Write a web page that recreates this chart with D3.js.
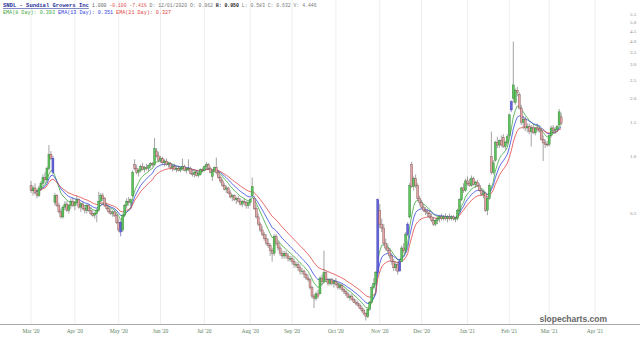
<!DOCTYPE html>
<html>
<head>
<meta charset="utf-8">
<script src="https://cdn.jsdelivr.net/npm/d3@7"></script>
<style>
  body { margin: 0; background: #fff; }
  svg { display: block; }
</style>
</head>
<body>
<div id="chart"></div>
<script>
// daily candles [open, high, low, close], one row per week, first day Mon 2 Mar 2020
var candles = [
  [.70,.74,.64,.66],[.66,.70,.62,.68],[.68,.72,.63,.64],[.64,.67,.60,.62],[.62,.70,.61,.68],
  [.68,.74,.66,.72],[.72,.80,.70,.77],[.77,.82,.72,.75],[.75,.88,.74,.86],[.86,1.14,.84,1.02],
  [1.02,1.06,.95,.97],[.97,1.00,.80,.82],[.57,.64,.55,.62],[.62,.63,.54,.55],[.55,.57,.50,.51],
  [.51,.53,.47,.48],[.48,.55,.47,.54],[.54,.58,.52,.56],[.56,.58,.51,.52],[.52,.56,.50,.55],
  [.55,.60,.53,.58],[.58,.61,.54,.55],[.55,.58,.52,.57],[.57,.62,.55,.59],[.59,.60,.53,.54],
  [.54,.57,.51,.56],[.56,.58,.52,.53],[.53,.55,.50,.52],[.52,.56,.50,.55],[.55,.56,.51,.52],
  [.52,.54,.49,.50],[.50,.52,.48,.49],[.49,.51,.47,.50],[.50,.53,.45,.52],[.52,.65,.51,.58],
  [.58,.64,.56,.62],[.62,.64,.58,.60],[.60,.61,.54,.55],[.55,.57,.52,.53],[.53,.55,.50,.51],
  [.51,.53,.49,.50],[.50,.52,.48,.51],[.51,.52,.48,.49],[.49,.50,.44,.45],[.45,.47,.40,.41],
  [.45,.46,.38,.40],[.41,.50,.40,.49],[.49,.56,.48,.55],[.55,.60,.53,.58],[.58,.61,.55,.57],
  [.57,.60,.55,.59],[.62,.84,.61,.82],[.90,.96,.84,.86],[.86,.90,.80,.82],[.82,.86,.78,.84],
  [.84,.90,.82,.88],[.88,.92,.84,.85],[.85,.89,.82,.87],[.87,.91,.84,.86],[.86,.90,.83,.89],
  [.89,.93,.86,.91],[.91,.93,.88,.90],[.90,1.24,.89,1.09],[1.06,1.10,.98,1.00],[1.00,1.05,.93,.95],
  [.95,1.00,.92,.97],[.97,.99,.90,.92],[.92,.96,.88,.94],[.94,.97,.89,.90],[.90,.93,.87,.91],
  [.91,.93,.85,.87],[.87,.90,.83,.88],[.88,.91,.84,.85],[.85,.88,.82,.86],[.86,.89,.83,.84],
  [.84,.88,.82,.86],[.86,.97,.84,.88],[.88,.90,.83,.84],[.84,.87,.81,.85],[.85,.96,.83,.86],
  [.86,.88,.80,.81],[.81,.84,.78,.80],[.80,.83,.77,.82],[.82,.84,.78,.79],[.79,.82,.77,.81],
  [.80,.86,.79,.85],[.85,.87,.82,.84],[.84,.89,.83,.88],[.88,.93,.86,.90],[.90,.92,.85,.86],
  [.86,.88,.81,.82],[.78,.84,.74,.83],[.83,.88,.82,.87],[.87,.98,.80,.82],[.82,.84,.76,.77],
  [.77,.79,.72,.74],[.74,.76,.69,.70],[.70,.72,.66,.67],[.67,.70,.64,.68],[.68,.69,.63,.64],
  [.64,.66,.60,.61],[.61,.63,.58,.62],[.62,.63,.58,.59],[.59,.61,.56,.60],[.60,.62,.57,.58],
  [.58,.60,.55,.56],[.56,.59,.54,.58],[.58,.60,.55,.57],[.57,.58,.53,.55],[.55,.58,.53,.57],
  [.57,.60,.55,.59],[.62,.77,.61,.69],[.60,.62,.52,.53],[.53,.55,.47,.48],[.48,.50,.43,.44],
  [.44,.45,.40,.41],[.41,.43,.38,.39],[.39,.40,.36,.37],[.37,.39,.34,.35],[.35,.37,.33,.34],
  [.34,.35,.30,.32],[.32,.33,.28,.31],[.31,.39,.30,.38],[.38,.39,.34,.35],[.35,.36,.32,.33],
  [.33,.34,.30,.31],[.31,.32,.29,.30],[.30,.32,.29,.31],[.31,.32,.29,.30],[.30,.31,.28,.29],
  [.29,.30,.28,.29],[.29,.30,.27,.28],[.28,.29,.26,.27],[.27,.28,.26,.27],[.27,.28,.25,.26],
  [.26,.27,.24,.25],[.25,.26,.24,.25],[.25,.255,.23,.24],[.24,.245,.225,.23],[.23,.24,.22,.225],
  [.225,.23,.20,.205],[.205,.21,.18,.185],[.185,.19,.16,.18],[.18,.195,.175,.19],[.19,.20,.18,.185],
  [.19,.235,.19,.23],[.23,.24,.21,.22],[.22,.32,.215,.245],[.245,.25,.22,.225],[.225,.23,.21,.215],
  [.215,.23,.21,.225],[.225,.23,.21,.215],[.215,.225,.205,.22],[.22,.23,.21,.212],[.212,.22,.20,.205],
  [.205,.215,.20,.21],[.21,.215,.195,.20],[.20,.205,.19,.195],[.195,.20,.185,.19],[.19,.195,.18,.182],
  [.182,.19,.175,.185],[.185,.19,.175,.178],[.178,.182,.17,.172],[.172,.178,.165,.17],[.17,.175,.163,.166],
  [.166,.17,.158,.16],[.16,.165,.152,.155],[.155,.16,.147,.15],[.15,.152,.138,.145],[.145,.16,.142,.158],
  [.158,.175,.155,.172],[.172,.21,.17,.205],[.205,.23,.20,.215],[.215,.25,.21,.245],[.245,.60,.24,.59],
  [.52,.56,.42,.44],[.44,.47,.40,.42],[.42,.44,.34,.35],[.35,.37,.32,.33],[.33,.35,.31,.32],
  [.32,.33,.29,.30],[.30,.31,.27,.28],[.28,.29,.25,.26],[.26,.28,.25,.27],[.27,.28,.24,.25],
  [.25,.29,.25,.28],[.28,.34,.28,.33],[.33,.35,.31,.32],[.32,.40,.31,.39],[.39,.45,.38,.44],
  [.48,.72,.47,.70],[.90,.93,.68,.69],[.69,.78,.66,.76],[.76,.80,.68,.70],[.70,.72,.58,.60],
  [.60,.62,.55,.57],[.57,.59,.53,.54],[.54,.56,.51,.52],[.52,.54,.49,.51],[.51,.53,.48,.50],
  [.50,.52,.47,.48],[.48,.50,.45,.46],[.46,.48,.43,.44],[.44,.47,.43,.46],[.46,.48,.44,.47],
  [.47,.49,.45,.48],[.48,.50,.46,.47],[.47,.49,.46,.48],[.48,.50,.46,.47],[.47,.49,.45,.48],
  [.48,.50,.46,.47],[.47,.49,.46,.48],[.48,.49,.46,.47],[.47,.48,.45,.47],[.47,.53,.46,.52],
  [.52,.60,.51,.59],[.59,.69,.58,.68],[.68,.72,.64,.66],[.66,.76,.65,.74],[.74,.78,.70,.72],
  [.72,.76,.69,.70],[.70,.79,.69,.76],[.76,.78,.70,.71],[.71,.74,.68,.73],[.73,.75,.69,.70],
  [.70,.72,.65,.66],[.66,.68,.62,.63],[.63,.66,.60,.64],[.64,.65,.51,.52],[.52,.61,.49,.60],
  [.60,.72,.59,.70],[.99,1.34,.80,.82],[.82,.95,.80,.92],[.95,1.20,.93,1.18],[1.18,1.26,1.10,1.14],
  [1.14,1.22,1.10,1.20],[1.20,1.28,1.12,1.14],[1.25,1.30,1.10,1.12],[1.12,1.20,1.08,1.18],[1.18,1.30,1.15,1.26],
  [1.28,1.66,1.26,1.64],[1.74,1.95,1.70,1.92],[2.00,3.96,1.90,2.35],[1.90,2.25,1.85,2.20],[2.20,2.30,2.05,2.15],
  [2.10,2.15,1.75,1.78],[1.78,1.85,1.45,1.50],[1.50,1.62,1.38,1.55],[1.55,1.60,1.35,1.40],[1.40,1.48,1.33,1.42],
  [1.42,1.48,1.30,1.34],[1.34,1.45,1.12,1.40],[1.40,1.46,1.30,1.32],[1.32,1.42,1.28,1.40],[1.40,1.48,1.34,1.38],
  [1.38,1.44,1.32,1.35],[1.35,1.40,1.20,1.22],[1.22,1.28,.94,1.17],[1.17,1.22,1.10,1.15],[1.15,1.20,1.12,1.14],
  [1.15,1.30,1.12,1.28],[1.28,1.44,1.25,1.40],[1.40,1.45,1.32,1.36],[1.36,1.42,1.30,1.38],[1.38,1.45,1.33,1.42],
  [1.45,1.76,1.44,1.70],[1.60,1.68,1.45,1.48]
];

// days drawn in blue (volume highlight)
var blueDays = [11, 45, 174, 185, 189, 241];

var yTicks = [0.5, 1.0, 1.5, 2.0, 2.5, 3.0, 3.5, 4.0, 4.5, 5.0, 5.5];

var emaPeriods = [8, 13, 21];
var emaColors = ["#3da83d", "#3346e0", "#e04545"];

var headerTitle = "SNDL - Sundial Growers Inc";
var headerParts = [
  {t: "1.000", c: "#666"},
  {t: "-0.100 -7.41%", c: "#e05050"},
  {t: "D: 12/01/2020", c: "#777"},
  {t: "O: 0.962", c: "#777"},
  {t: "H: 0.950", c: "#222", b: true},
  {t: "L: 0.583", c: "#777"},
  {t: "C: 0.632", c: "#777"},
  {t: "V: 4.446", c: "#777"}
];
var emaLabels = ["EMA(8 Day): 0.393", "EMA(13 Day): 0.351", "EMA(21 Day): 0.327"];

var W = 640, H = 338;
var svg = d3.select("#chart").append("svg").attr("width", W).attr("height", H);

// trading days (weekdays) starting Mon 2 Mar 2020, extended past the data for the axis
var days = [];
var dt = new Date(2020, 2, 2);
while (dt < new Date(2021, 4, 1)) {
  if (dt.getDay() !== 0 && dt.getDay() !== 6) days.push(new Date(dt));
  dt.setDate(dt.getDate() + 1);
}

var x = d3.scaleLinear().domain([0, 283]).range([31, 595]);
var y = d3.scaleLog().domain([0.5, 5.5]).range([213.5, 14.3]);

var monthIdx = [];
days.forEach(function(d, i) {
  if (i === 0 || d.getMonth() !== days[i - 1].getMonth()) monthIdx.push(i);
});
var fmt = d3.timeFormat("%b '%y");

// grid
svg.append("g").selectAll("line").data(monthIdx).enter().append("line")
  .attr("x1", function(i) { return x(i); }).attr("x2", function(i) { return x(i); })
  .attr("y1", 0).attr("y2", 324)
  .attr("stroke", "#eeeeee").attr("stroke-width", 1);

// bottom axis line + month labels
svg.append("line").attr("x1", 0).attr("x2", W).attr("y1", 324.5).attr("y2", 324.5)
  .attr("stroke", "#aaa").attr("stroke-width", 1);
svg.append("g").selectAll("text").data(monthIdx).enter().append("text")
  .attr("x", function(i) { return x(i); }).attr("y", 333)
  .attr("text-anchor", "middle")
  .attr("font-family", "Liberation Serif, serif").attr("font-size", 5.5)
  .attr("fill", "#5e7f5e")
  .text(function(i) { return fmt(days[i]); });

// right price labels
svg.append("g").selectAll("text").data(yTicks).enter().append("text")
  .attr("x", 630).attr("y", function(v) { return y(v); })
  .attr("dy", "0.35em")
  .attr("font-family", "Liberation Serif, serif").attr("font-size", 5)
  .attr("fill", "#888")
  .text(d3.format(".1f"));

// EMA lines
var closes = candles.map(function(c) { return c[3]; });
emaPeriods.forEach(function(n, k) {
  var a = 2 / (n + 1), e = closes[0], pts = [];
  closes.forEach(function(c, i) {
    e = i === 0 ? c : a * c + (1 - a) * e;
    pts.push([i, e]);
  });
  svg.append("path").datum(pts)
    .attr("fill", "none").attr("stroke", emaColors[k]).attr("stroke-width", 0.8)
    .attr("d", d3.line().x(function(p) { return x(p[0]); }).y(function(p) { return y(p[1]); }));
});

// candles
var g = svg.append("g");
var bw = 2.0;
candles.forEach(function(c, i) {
  var up = c[3] >= c[0];
  var blue = blueDays.indexOf(i) >= 0;
  var fill = blue ? "#6262dc" : (up ? "#5cc45c" : "#e8a4a4");
  var stroke = blue ? "#3a3aa8" : (up ? "#2f7a2f" : "#6e4c4c");
  var cx = x(i);
  g.append("line")
    .attr("x1", cx).attr("x2", cx).attr("y1", y(c[1])).attr("y2", y(c[2]))
    .attr("stroke", blue ? "#3a3aa8" : "#666").attr("stroke-width", 0.6);
  var top = y(Math.max(c[0], c[3])), bot = y(Math.min(c[0], c[3]));
  g.append("rect")
    .attr("x", cx - bw / 2).attr("y", top)
    .attr("width", bw).attr("height", Math.max(0.6, bot - top))
    .attr("fill", fill).attr("stroke", stroke).attr("stroke-width", 0.4);
});

// header
var h1 = svg.append("text").attr("x", 3).attr("y", 7)
  .attr("font-family", "Liberation Mono, monospace").attr("font-size", 5.5);
h1.append("tspan").attr("fill", "#1f2f9a").attr("font-weight", "bold")
  .attr("text-decoration", "underline").text(headerTitle);
var h2 = svg.append("text").attr("x", 92).attr("y", 7)
  .attr("font-family", "Liberation Mono, monospace").attr("font-size", 4.8);
headerParts.forEach(function(p, i) {
  h2.append("tspan").attr("fill", p.c).attr("font-weight", p.b ? "bold" : "normal")
    .text((i ? " " : "") + p.t);
});
var h3 = svg.append("text").attr("x", 3).attr("y", 14)
  .attr("font-family", "Liberation Mono, monospace").attr("font-size", 5.1);
emaLabels.forEach(function(t, i) {
  h3.append("tspan").attr("fill", emaColors[i]).text((i ? " " : "") + t);
});

// watermark
svg.append("text").attr("x", 607).attr("y", 322).attr("text-anchor", "end")
  .attr("font-family", "Liberation Sans, Arial, sans-serif").attr("font-size", 8.5)
  .attr("font-weight", "bold").attr("fill", "#666")
  .text("slopecharts.com");
</script>
</body>
</html>
